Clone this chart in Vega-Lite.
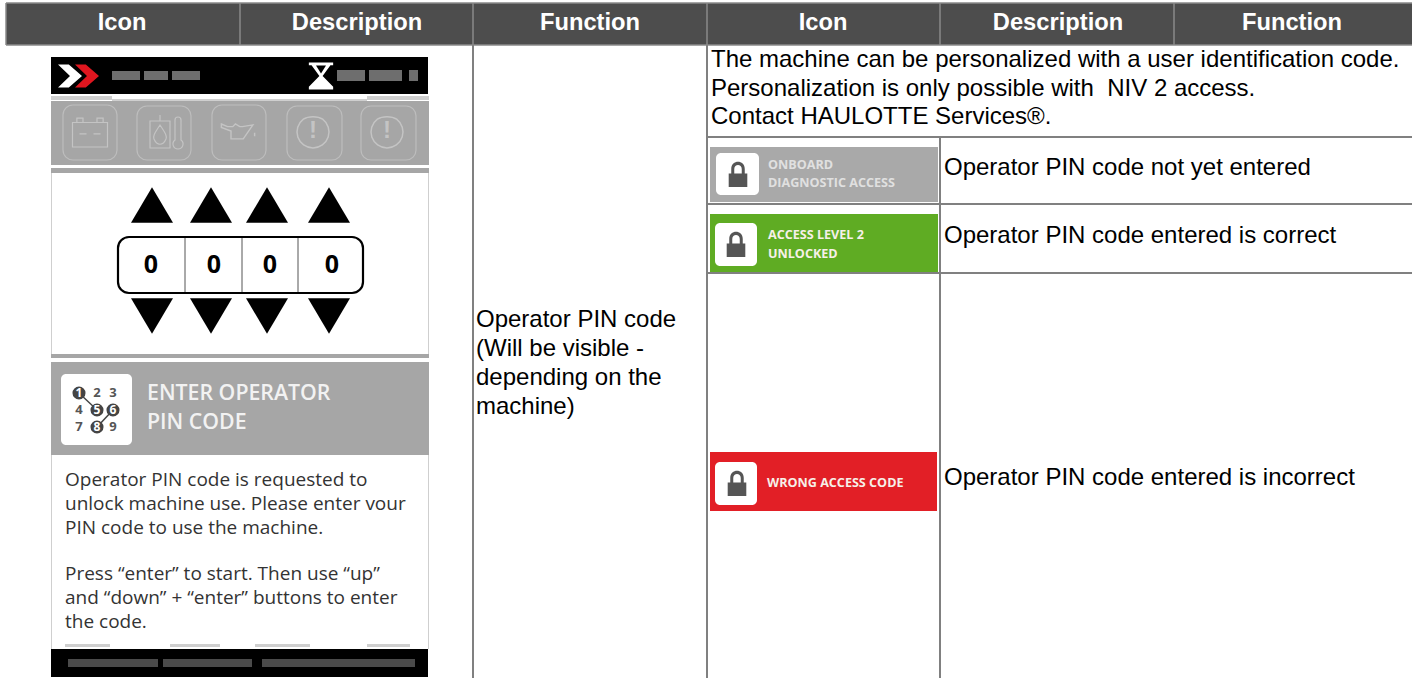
{
"$schema":"https://vega.github.io/schema/vega-lite/v6.json",
"width":1412,"height":678,"padding":0,"autosize":{"type":"none"},
"background":"white","view":{"stroke":null},
"config":{"text":{"align":"left","baseline":"middle"}},
"datasets":{
"rects":[
{"part":"head","x":6,"x2":1412,"y":3,"y2":45},
{"part":"black","x":51,"x2":428,"y":57,"y2":94},
{"part":"blurA","x":112,"x2":140,"y":71,"y2":80},
{"part":"blurA","x":144,"x2":168,"y":71,"y2":80},
{"part":"blurA","x":172,"x2":200,"y":71,"y2":80},
{"part":"blurA","x":337,"x2":365,"y":70,"y2":81},
{"part":"blurA","x":369,"x2":402,"y":70,"y2":81},
{"part":"blurA","x":409,"x2":418,"y":70,"y2":81},
{"part":"soft","x":51,"x2":112,"y":96,"y2":100},
{"part":"soft","x":367,"x2":429,"y":96,"y2":100},
{"part":"soft","x":112,"x2":367,"y":99,"y2":101},
{"part":"band","x":51,"x2":429,"y":101,"y2":165},
{"part":"band","x":51,"x2":429,"y":168,"y2":173},
{"part":"band","x":51,"x2":429,"y":354,"y2":358},
{"part":"band","x":51,"x2":429,"y":362,"y2":455},
{"part":"soft","x":51,"x2":52,"y":173,"y2":354},
{"part":"soft","x":428,"x2":429,"y":173,"y2":354},
{"part":"soft","x":51,"x2":52,"y":455,"y2":649},
{"part":"soft","x":428,"x2":429,"y":455,"y2":649},
{"part":"soft","x":65,"x2":110,"y":644,"y2":647},
{"part":"soft","x":170,"x2":220,"y":644,"y2":647},
{"part":"soft","x":255,"x2":310,"y":644,"y2":647},
{"part":"soft","x":367,"x2":410,"y":644,"y2":647},
{"part":"black","x":51,"x2":428,"y":649,"y2":677},
{"part":"blurB","x":68,"x2":158,"y":659,"y2":667},
{"part":"blurB","x":163,"x2":252,"y":659,"y2":667},
{"part":"blurB","x":262,"x2":415,"y":659,"y2":667},
{"part":"grey","x":710,"x2":938,"y":147,"y2":202},
{"part":"green","x":710,"x2":938,"y":214,"y2":272},
{"part":"red","x":710,"x2":937,"y":452,"y2":511}
],
"roundWhite":[
{"x":61,"x2":132,"y":374,"y2":445},
{"x":716,"x2":759,"y":153,"y2":195},
{"x":715,"x2":757,"y":223,"y2":266},
{"x":715,"x2":757,"y":462,"y2":505}
],
"iconBoxes":[
{"x":63,"x2":117,"y":105,"y2":160},
{"x":137,"x2":191,"y":106,"y2":160},
{"x":212,"x2":266,"y":105,"y2":160},
{"x":287,"x2":342,"y":106,"y2":160},
{"x":361,"x2":416,"y":106,"y2":160}
],
"digitBox":[{"x":118,"x2":363,"y":237,"y2":293}],
"digitRules":[
{"x":185,"x2":185,"y":238,"y2":292},
{"x":242,"x2":242,"y":238,"y2":292},
{"x":298,"x2":298,"y":238,"y2":292}
],
"pinLinks":[
{"x":79,"x2":97,"y":393,"y2":410},
{"x":113,"x2":97,"y":410,"y2":427}
],
"gridHead":[
{"x":6,"x2":1412,"y":3,"y2":3},
{"x":6,"x2":1412,"y":45,"y2":45},
{"x":6,"x2":6,"y":3,"y2":45},
{"x":240,"x2":240,"y":3,"y2":45},
{"x":473,"x2":473,"y":3,"y2":45},
{"x":707,"x2":707,"y":3,"y2":45},
{"x":940,"x2":940,"y":3,"y2":45},
{"x":1174,"x2":1174,"y":3,"y2":45}
],
"gridBody":[
{"x":473,"x2":473,"y":45,"y2":678},
{"x":707,"x2":707,"y":45,"y2":678},
{"x":940,"x2":940,"y":137,"y2":678},
{"x":707,"x2":1412,"y":137,"y2":137},
{"x":707,"x2":1412,"y":204,"y2":204},
{"x":707,"x2":1412,"y":273,"y2":273}
],
"headers":[
{"x":122,"y":23,"label":"Icon"},
{"x":357,"y":23,"label":"Description"},
{"x":590,"y":23,"label":"Function"},
{"x":823,"y":23,"label":"Icon"},
{"x":1058,"y":23,"label":"Description"},
{"x":1292,"y":23,"label":"Function"}
],
"body":[
{"x":711,"y":60,"label":"The machine can be personalized with a user identification code."},
{"x":711,"y":89,"label":"Personalization is only possible with\u00a0 NIV 2 access."},
{"x":711,"y":117,"label":"Contact HAULOTTE Services®."},
{"x":944,"y":168,"label":"Operator PIN code not yet entered"},
{"x":944,"y":236,"label":"Operator PIN code entered is correct"},
{"x":944,"y":478,"label":"Operator PIN code entered is incorrect"},
{"x":476,"y":320,"label":"Operator PIN code"},
{"x":476,"y":349,"label":"(Will be visible -"},
{"x":476,"y":378,"label":"depending on the"},
{"x":476,"y":407,"label":"machine)"}
],
"screenText":[
{"x":65,"y":479.5,"label":"Operator PIN code is requested to"},
{"x":65,"y":503.5,"label":"unlock machine use. Please enter vour"},
{"x":65,"y":527.5,"label":"PIN code to use the machine."},
{"x":65,"y":573.5,"label":"Press “enter” to start. Then use “up”"},
{"x":65,"y":597.5,"label":"and “down” + “enter” buttons to enter"},
{"x":65,"y":621.5,"label":"the code."}
],
"screenHead":[
{"x":147,"y":394,"label":"ENTER OPERATOR"},
{"x":147,"y":423,"label":"PIN CODE"}
],
"digits":[
{"x":151,"y":265,"label":"0"},
{"x":214,"y":265,"label":"0"},
{"x":270,"y":265,"label":"0"},
{"x":332,"y":265,"label":"0"}
],
"up":[{"x":152,"y":205},{"x":211,"y":205},{"x":267,"y":205},{"x":329,"y":205}],
"down":[{"x":152,"y":316},{"x":211,"y":316},{"x":267,"y":316},{"x":329,"y":316}],
"pinDots":[{"x":79,"y":393},{"x":97,"y":410},{"x":113,"y":410},{"x":97,"y":427}],
"pinOn":[
{"x":79,"y":393,"label":"1"},{"x":97,"y":410,"label":"5"},{"x":113,"y":410,"label":"6"},{"x":97,"y":427,"label":"8"}
],
"pinOff":[
{"x":97,"y":393,"label":"2"},{"x":113,"y":393,"label":"3"},{"x":79,"y":410,"label":"4"},{"x":79,"y":427,"label":"7"},{"x":113,"y":427,"label":"9"}
],
"badgeSmall":[
{"x":768,"y":165,"label":"ONBOARD","tone":"dim"},
{"x":768,"y":183,"label":"DIAGNOSTIC ACCESS","tone":"dim"},
{"x":768,"y":235,"label":"ACCESS LEVEL 2","tone":"bright"},
{"x":768,"y":254,"label":"UNLOCKED","tone":"bright"},
{"x":767,"y":483,"label":"WRONG ACCESS CODE","tone":"bright"}
],
"locks":[{"x":738,"y":175},{"x":736,"y":245},{"x":737,"y":484}],
"bang":[{"x":313,"y":131,"label":"!"},{"x":387,"y":131,"label":"!"}]
},
"encoding":{
"x":{"field":"x","type":"quantitative","axis":null,"scale":{"domain":[0,1412],"range":[0,1412],"nice":false,"zero":false}},
"y":{"field":"y","type":"quantitative","axis":null,"scale":{"domain":[0,678],"range":[0,678],"nice":false,"zero":false}}
},
"layer":[
{"data":{"name":"rects"},"mark":{"type":"rect"},
 "encoding":{"x2":{"field":"x2"},"y2":{"field":"y2"},
 "color":{"field":"part","type":"nominal","legend":null,"scale":{"domain":["head","black","blurA","blurB","soft","band","grey","green","red"],"range":["#4d4d4d","#000000","#6e6e6e","#4a4a4a","#cfcfcf","#a6a6a6","#a9a9a9","#5fac23","#e21f26"]}}}},
{"data":{"name":"iconBoxes"},"mark":{"type":"rect","fill":null,"stroke":"#bdbdbd","strokeWidth":1.2,"cornerRadius":10},
 "encoding":{"x2":{"field":"x2"},"y2":{"field":"y2"}}},
{"data":{"values":[{"x":90,"y":133}]},"mark":{"type":"point","filled":false,"stroke":"#c4c4c4","strokeWidth":1.2,"opacity":1,"size":1225,"shape":"M-1,-.6H1V.8H-1Z M-.75,-.6V-.85H-.4V-.6 M.4,-.6V-.85H.75V-.6 M-.6,.05H-.2 M.2,.05H.6"}},
{"data":{"values":[{"x":164,"y":132}]},"mark":{"type":"point","filled":false,"stroke":"#c4c4c4","strokeWidth":1.2,"opacity":1,"size":1600,"shape":"M-.2,-.85V-.55 M-.7,-.55H.3V.8H-.7Z M-.2,-.35C-.5,.1 -.55,.2 -.5,.35C-.35,.7 -.05,.7 .1,.35C.15,.2 .1,.1 -.2,-.35Z M.55,-.6C.55,-.8 .85,-.8 .85,-.6V.4A.25,.25 0 1 1 .55,.4Z"}},
{"data":{"values":[{"x":238,"y":131}]},"mark":{"type":"point","filled":false,"stroke":"#c4c4c4","strokeWidth":1.4,"opacity":1,"size":1225,"shape":"M-.95,-.4L-.6,-.25L-.3,-.25L-.15,-.4L.1,-.25H.25L.85,-.35L.3,.45H-.4V0L-.95,-.2Z M.95,.1V.3"}},
{"data":{"values":[{"x":313,"y":132},{"x":387,"y":132}]},"mark":{"type":"point","filled":false,"stroke":"#c4c4c4","strokeWidth":1.5,"opacity":1,"size":1024,"shape":"M-.6,-.8A1,1 0 1 0 .6,-.8 M-.6,-.8C-.3,-1 .3,-1 .6,-.8"}},
{"data":{"name":"bang"},"mark":{"type":"text","align":"center","font":"Liberation Sans","fontWeight":"bold","fontSize":24,"fill":"#c4c4c4"},"encoding":{"text":{"field":"label"}}},
{"data":{"values":[{"x":70,"y":76}]},"mark":{"type":"point","filled":true,"fill":"#ffffff","stroke":null,"opacity":1,"size":576,"shape":"M-1,-.95H-.1L1,0L-.1,.95H-1L0,0Z"}},
{"data":{"values":[{"x":87,"y":76}]},"mark":{"type":"point","filled":true,"fill":"#e0161f","stroke":null,"opacity":1,"size":576,"shape":"M-1,-.95H-.1L1,0L-.1,.95H-1L0,0Z"}},
{"data":{"values":[{"x":321,"y":76}]},"mark":{"type":"point","filled":true,"fill":"#ffffff","stroke":null,"opacity":1,"size":729,"shape":"M-.9,-1H.9V-.8H.7L.12,0L.9,.8V1H-.9V.8L-.12,0L-.7,-.8H-.9Z"}},
{"data":{"values":[{"x":321,"y":69}]},"mark":{"type":"point","filled":true,"fill":"#000000","stroke":null,"opacity":1,"size":100,"shape":"M-1,-.7H1L0,.9Z"}},
{"data":{"name":"up"},"mark":{"type":"point","filled":true,"fill":"#000000","stroke":null,"opacity":1,"size":1764,"shape":"M0,-.85L1,.85H-1Z"}},
{"data":{"name":"down"},"mark":{"type":"point","filled":true,"fill":"#000000","stroke":null,"opacity":1,"size":1764,"shape":"M0,.85L1,-.85H-1Z"}},
{"data":{"name":"digitBox"},"mark":{"type":"rect","fill":null,"stroke":"#000000","strokeWidth":2.2,"cornerRadius":11},
 "encoding":{"x2":{"field":"x2"},"y2":{"field":"y2"}}},
{"data":{"name":"digitRules"},"mark":{"type":"rule","stroke":"#555555","strokeWidth":1},"encoding":{"x2":{"field":"x2"},"y2":{"field":"y2"}}},
{"data":{"name":"digits"},"mark":{"type":"text","align":"center","font":"Open Sans","fontWeight":"bold","fontSize":25,"fill":"#000000"},"encoding":{"text":{"field":"label"}}},
{"data":{"name":"roundWhite"},"mark":{"type":"rect","fill":"#ffffff","cornerRadius":5},"encoding":{"x2":{"field":"x2"},"y2":{"field":"y2"}}},
{"data":{"name":"pinLinks"},"mark":{"type":"rule","stroke":"#444444","strokeWidth":1.5},"encoding":{"x2":{"field":"x2"},"y2":{"field":"y2"}}},
{"data":{"name":"pinDots"},"mark":{"type":"point","filled":true,"fill":"#444444","stroke":null,"opacity":1,"size":170,"shape":"circle"}},
{"data":{"name":"pinOn"},"mark":{"type":"text","align":"center","font":"Open Sans","fontWeight":"bold","fontSize":12,"fill":"#ffffff"},"encoding":{"text":{"field":"label"}}},
{"data":{"name":"pinOff"},"mark":{"type":"text","align":"center","font":"Open Sans","fontWeight":"bold","fontSize":13,"fill":"#555555"},"encoding":{"text":{"field":"label"}}},
{"data":{"name":"screenHead"},"mark":{"type":"text","font":"Open Sans","fontWeight":600,"fontSize":21.3,"fill":"#f2f2f2"},"encoding":{"text":{"field":"label"}}},
{"data":{"name":"screenText"},"mark":{"type":"text","font":"Open Sans","fontSize":19,"fill":"#333333"},"encoding":{"text":{"field":"label"}}},
{"data":{"name":"locks"},"mark":{"type":"point","filled":true,"fill":"#555555","stroke":null,"opacity":1,"size":900,"shape":"M-.45,-.1V-.4C-.45,-1.05 .45,-1.05 .45,-.4V-.1H.62V.8H-.62V-.1Z M-.25,-.1H.25V-.4C.25,-.75 -.25,-.75 -.25,-.4Z"}},
{"data":{"name":"badgeSmall"},"mark":{"type":"text","font":"Open Sans","fontWeight":"bold","fontSize":12.6},
 "encoding":{"text":{"field":"label"},"color":{"field":"tone","type":"nominal","legend":null,"scale":{"domain":["dim","bright"],"range":["#e0e0e0","#f6f0e8"]}}}},
{"data":{"name":"gridHead"},"mark":{"type":"rule","stroke":"#8a8a8a","strokeWidth":1.5},"encoding":{"x2":{"field":"x2"},"y2":{"field":"y2"}}},
{"data":{"name":"gridBody"},"mark":{"type":"rule","stroke":"#808080","strokeWidth":2},"encoding":{"x2":{"field":"x2"},"y2":{"field":"y2"}}},
{"data":{"name":"headers"},"mark":{"type":"text","align":"center","font":"Liberation Sans","fontWeight":"bold","fontSize":23.7,"fill":"#ffffff"},"encoding":{"text":{"field":"label"}}},
{"data":{"name":"body"},"mark":{"type":"text","font":"Liberation Sans","fontSize":24,"fill":"#000000"},"encoding":{"text":{"field":"label"}}}
],
"resolve":{"scale":{"color":"independent"}}
}
